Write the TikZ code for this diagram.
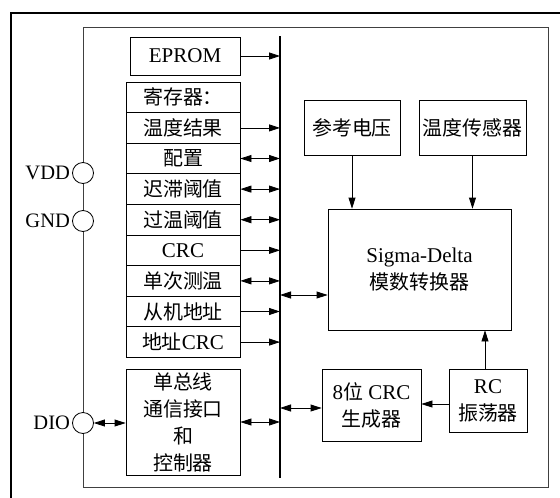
\documentclass[tikz,border=0pt]{standalone}
\usepackage{fontspec}
\setmainfont{Liberation Serif}
\newfontfamily\cjk[Scale=0.95]{Noto Sans CJK SC}
\usetikzlibrary{arrows.meta}
\begin{document}
\begin{tikzpicture}[x=1pt,y=-1pt,
  box/.style={draw, line width=0.8pt, inner sep=0pt, align=center, font=\fontsize{21}{27}\selectfont},
  row/.style={box, minimum width=114pt, minimum height=30.6pt},
  pin/.style={circle, draw, line width=0.8pt, fill=white, minimum size=21pt, inner sep=0pt},
  pinlabel/.style={anchor=east, inner sep=2pt, font=\fontsize{20.5}{23}\selectfont},
  arr/.style={-{Triangle[length=11pt,width=7pt]}, line width=0.8pt},
  darr/.style={{Triangle[length=11pt,width=7pt]}-{Triangle[length=11pt,width=7pt]}, line width=0.8pt}]
\useasboundingbox (0,0) rectangle (560,498);
\fill[white] (0,0) rectangle (560,498);
% outer frame
\draw[line width=2.5pt] (11,498) -- (11,13) -- (560,13);
% chip
\node[draw=black!75, line width=0.9pt, minimum width=465pt, minimum height=460pt, inner sep=0pt] (chip) at (315.5,257) {};
% bus
\coordinate (bt) at (280,36);
\coordinate (bb) at (280,478);
\draw[line width=2pt] (bt) -- (bb);
% EPROM
\node[box, minimum width=110pt, minimum height=38pt] (eprom) at (185,56) {EPROM};
\draw[arr] (eprom.east) -- (eprom.east -| bt);
% register stack
\node[row] (r0) at (183,97.3) {\cjk 寄存器：};
\node[row] (r1) at (183,127.9) {\cjk 温度结果};
\node[row] (r2) at (183,158.5) {\cjk 配置};
\node[row] (r3) at (183,189.1) {\cjk 迟滞阈值};
\node[row] (r4) at (183,219.7) {\cjk 过温阈值};
\node[row] (r5) at (183,250.3) {CRC};
\node[row] (r6) at (183,280.9) {\cjk 单次测温};
\node[row] (r7) at (183,311.5) {\cjk 从机地址};
\node[row] (r8) at (183,342.1) {{\cjk 地址}CRC};
\draw[arr] (r1.east) -- (r1.east -| bt);
\draw[darr] (r2.east) -- (r2.east -| bt);
\draw[darr] (r3.east) -- (r3.east -| bt);
\draw[darr] (r4.east) -- (r4.east -| bt);
\draw[arr] (r5.east) -- (r5.east -| bt);
\draw[darr] (r6.east) -- (r6.east -| bt);
\draw[arr] (r7.east) -- (r7.east -| bt);
\draw[arr] (r8.east) -- (r8.east -| bt);
% single bus box
\node[box, minimum width=114pt, minimum height=106pt] (sbus) at (183,422) {\cjk 单总线\\\cjk 通信接口\\\cjk 和\\\cjk 控制器};
\draw[darr] (sbus.east) -- (sbus.east -| bt);
% pins
\node[pin] (vdd) at (83,173) {};
\node[pin] (gnd) at (83,221) {};
\node[pin] (dio) at (83,423) {};
\node[pinlabel] at (vdd.west) {VDD};
\node[pinlabel] at (gnd.west) {GND};
\node[pinlabel] at (dio.west) {DIO};
\draw[darr] (dio.east) -- (dio.east -| sbus.west);
% right side
\node[box, minimum width=96pt, minimum height=55pt] (ref) at (352,127.5) {\cjk 参考电压};
\node[box, minimum width=107pt, minimum height=55pt] (ts) at (472.5,127.5) {\cjk 温度传感器};
\node[box, minimum width=183pt, minimum height=121pt] (sig) at (419.5,269.5) {Sigma-Delta\\\cjk 模数转换器};
\draw[arr] (ref.south) -- (ref.south |- sig.north);
\draw[arr] (ts.south) -- (ts.south |- sig.north);
\coordinate (sa) at ([yshift=-25.5pt]sig.west);
\draw[darr] (sa -| bt) -- (sa);
\node[box, minimum width=99pt, minimum height=72pt] (crc) at (371.5,405) {8{\cjk 位} CRC\\\cjk 生成器};
\node[box, minimum width=78pt, minimum height=63pt] (rc) at (488,400.5) {RC\\\cjk 振荡器};
\coordinate (ca) at ([yshift=-3pt]crc.west);
\draw[darr] (ca -| bt) -- (ca);
\coordinate (ra) at ([yshift=-3.5pt]rc.west);
\draw[arr] (ra) -- (ra -| crc.east);
\coordinate (rb) at ([xshift=-3pt]rc.north);
\draw[arr] (rb) -- (rb |- sig.south);
\end{tikzpicture}
\end{document}
